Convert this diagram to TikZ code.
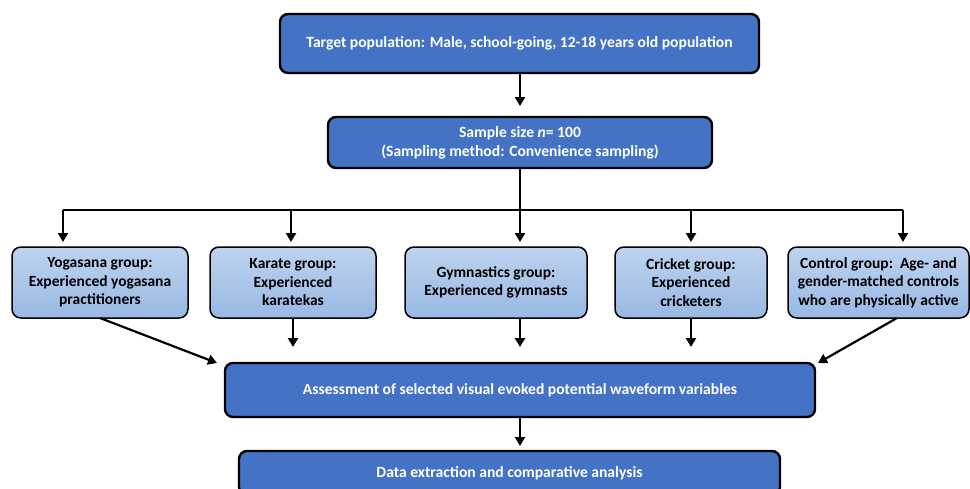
\documentclass[tikz,border=0pt]{standalone}
\usepackage{fontspec}
\setmainfont{Carlito}
\usetikzlibrary{arrows.meta}
\definecolor{dblue}{RGB}{68,114,196}
\definecolor{ltop}{RGB}{190,210,238}
\definecolor{lbot}{RGB}{152,185,228}
\begin{document}
\begin{tikzpicture}[x=1pt,y=-1pt,
  mainbox/.style={draw=black,line width=2.4pt,fill=dblue,rounded corners=8pt,inner sep=0pt,
    text=white,font=\bfseries\fontsize{15.6}{19}\selectfont,align=center},
  grpbox/.style={draw=black,line width=1.5pt,top color=ltop,bottom color=lbot,rounded corners=9pt,inner sep=0pt,
    text=black,font=\bfseries\fontsize{15.5}{18.5}\selectfont,align=center,minimum height=71pt},
  arr/.style={line width=2.2pt,-{Triangle[length=9pt,width=10pt]}},
  ln/.style={line width=2.2pt}]
\clip (0,0) rectangle (970,488);
\fill[white] (0,0) rectangle (970,488);
\node[mainbox,minimum width=479pt,minimum height=59pt] (top) at (519.5,43.5)
  {Target population: Male, school-going, 12-18 years old population};
\node[mainbox,minimum width=384pt,minimum height=51pt] (samp) at (520,142.5)
  {Sample size \textit{n}= 100\\(Sampling method: Convenience sampling)};
\node[grpbox,minimum width=176pt] (yoga) at (100,282.5) {Yogasana group:\\Experienced yogasana\\practitioners};
\node[grpbox,minimum width=166pt] (kar) at (293,282.5) {Karate group:\\Experienced\\karatekas};
\node[grpbox,minimum width=182pt] (gym) at (496,282.5) {Gymnastics group:\\Experienced gymnasts};
\node[grpbox,minimum width=152pt] (cri) at (691,282.5) {Cricket group:\\Experienced\\cricketers};
\node[grpbox,minimum width=181pt] (con) at (878.5,282.5) {Control group:\ \ Age- and\\gender-matched controls\\who are physically active};
\node[mainbox,minimum width=590pt,minimum height=54pt] (ass) at (520,390)
  {Assessment of selected visual evoked potential waveform variables};
\node[mainbox,minimum width=541pt,minimum height=44pt] (dat) at (509.5,473)
  {Data extraction and comparative analysis};
% connectors
\coordinate (t1) at (520,106);
\draw[arr] (top.south -| t1) -- (t1);
\coordinate (bar) at (520,210);
\coordinate (bl) at (63,210);
\coordinate (br) at (903,210);
\draw[ln] (samp.south -| bar) -- (bar);
\draw[ln] (bl) -- (br);
\coordinate (a1) at (63,242);
\coordinate (a2) at (291,242);
\coordinate (a3) at (520,242);
\coordinate (a4) at (691,242);
\coordinate (a5) at (903,242);
\draw[arr] (bl) -- (a1);
\draw[arr] (bar -| a2) -- (a2);
\draw[arr] (bar) -- (a3);
\draw[arr] (bar -| a4) -- (a4);
\draw[arr] (br) -- (a5);
\coordinate (k1) at (293,347);
\coordinate (g1) at (520,347);
\coordinate (c1) at (691,347);
\draw[arr] (kar.south -| k1) -- (k1);
\draw[arr] (gym.south -| g1) -- (g1);
\draw[arr] (cri.south -| c1) -- (c1);
\coordinate (y0) at (100,318);
\coordinate (y1) at (217,363);
\draw[arr] (y0) -- (y1);
\coordinate (c0) at (897,318);
\coordinate (c2) at (818,363);
\draw[arr] (c0) -- (c2);
\coordinate (d1) at (520,446);
\draw[arr] (ass.south -| d1) -- (d1);
\end{tikzpicture}
\end{document}
